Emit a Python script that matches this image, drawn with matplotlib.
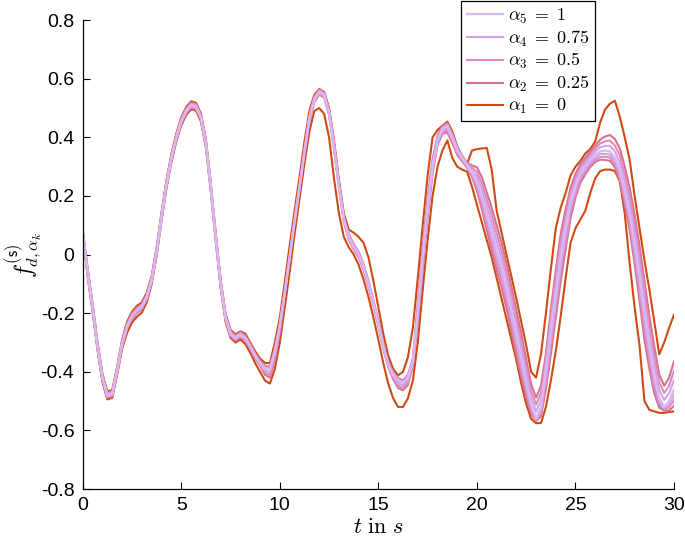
import matplotlib
matplotlib.use('Agg')
import matplotlib.pyplot as plt
import numpy as np

# ---------------- data ----------------
t = np.arange(0, 30.001, 0.25)

# alpha_5 = 1 (core curve)
f_a5 = [0.078, -0.06, -0.18, -0.31, -0.42, -0.48, -0.475, -0.395, -0.305, -0.245,
        -0.21, -0.19, -0.178, -0.145, -0.086, 0.01, 0.13, 0.24, 0.33, 0.40,
        0.455, 0.49, 0.51, 0.505, 0.468, 0.38, 0.23, 0.06, -0.10, -0.215,
        -0.27, -0.285, -0.273, -0.285, -0.314, -0.345, -0.37, -0.39, -0.39, -0.33,
        -0.245, -0.13, -0.01, 0.115, 0.23, 0.35, 0.465, 0.53, 0.555, 0.545,
        0.485, 0.37, 0.235, 0.12, 0.06, 0.027, 0.0, -0.042, -0.10, -0.165,
        -0.235, -0.312, -0.375, -0.41, -0.43, -0.438, -0.42, -0.365, -0.20, -0.01,
        0.16, 0.30, 0.39, 0.428, 0.437, 0.40, 0.357, 0.33, 0.305, 0.28,
        0.25, 0.20, 0.14, 0.08, 0.02, -0.04, -0.11, -0.19, -0.27, -0.35,
        -0.43, -0.51, -0.56, -0.52, -0.395, -0.26, -0.135, -0.01, 0.09, 0.18,
        0.235, 0.278, 0.302, 0.323, 0.34, 0.352, 0.355, 0.352, 0.33, 0.29,
        0.22, 0.14, 0.04, -0.07, -0.195, -0.31, -0.41, -0.49, -0.52, -0.50,
        -0.46]

# alpha_1 = 0 (outer bounds)
f_a1_up = [0.082, -0.047, -0.167, -0.297, -0.407, -0.467, -0.462, -0.382, -0.292, -0.230,
           -0.195, -0.175, -0.163, -0.130, -0.073, 0.023, 0.143, 0.253, 0.343, 0.413,
           0.468, 0.503, 0.523, 0.518, 0.481, 0.393, 0.243, 0.073, -0.087, -0.202,
           -0.257, -0.272, -0.262, -0.27, -0.30, -0.33, -0.355, -0.37, -0.37, -0.30,
           -0.215, -0.095, 0.03, 0.15, 0.265, 0.385, 0.49, 0.545, 0.565, 0.555,
           0.50, 0.39, 0.255, 0.14, 0.085, 0.075, 0.06, 0.04, -0.01, -0.09,
           -0.18, -0.27, -0.345, -0.39, -0.412, -0.40, -0.35, -0.25, -0.08, 0.10,
           0.27, 0.40, 0.425, 0.44, 0.454, 0.42, 0.37, 0.32, 0.31, 0.355,
           0.36, 0.362, 0.364, 0.29, 0.15, 0.075, 0.0, -0.075, -0.15, -0.23,
           -0.31, -0.40, -0.42, -0.34, -0.20, -0.05, 0.09, 0.16, 0.21, 0.27,
           0.30, 0.32, 0.345, 0.36, 0.386, 0.45, 0.495, 0.515, 0.525, 0.47,
           0.40, 0.323, 0.20, 0.09, -0.02, -0.12, -0.23, -0.34, -0.30, -0.25,
           -0.205]
f_a1_lo = [0.074, -0.074, -0.194, -0.324, -0.434, -0.494, -0.489, -0.409, -0.322, -0.267,
           -0.232, -0.212, -0.198, -0.163, -0.100, -0.004, 0.116, 0.226, 0.316, 0.386,
           0.441, 0.476, 0.496, 0.491, 0.454, 0.366, 0.216, 0.046, -0.114, -0.229,
           -0.284, -0.30, -0.29, -0.305, -0.335, -0.37, -0.40, -0.43, -0.44, -0.39,
           -0.30, -0.18, -0.06, 0.07, 0.19, 0.31, 0.42, 0.49, 0.50, 0.48,
           0.40, 0.26, 0.14, 0.06, 0.025, 0.0, -0.035, -0.085, -0.145, -0.215,
           -0.29, -0.37, -0.44, -0.49, -0.52, -0.52, -0.49, -0.43, -0.30, -0.12,
           0.05, 0.20, 0.30, 0.355, 0.39, 0.33, 0.30, 0.29, 0.283, 0.232,
           0.17, 0.11, 0.05, -0.01, -0.08, -0.15, -0.22, -0.29, -0.36, -0.44,
           -0.51, -0.56, -0.575, -0.575, -0.52, -0.43, -0.33, -0.21, -0.08, 0.04,
           0.09, 0.12, 0.15, 0.21, 0.26, 0.285, 0.29, 0.29, 0.285, 0.25,
           0.14, -0.03, -0.18, -0.31, -0.50, -0.53, -0.535, -0.54, -0.54, -0.537,
           -0.535]

a2_up_spread = [0.003, 0.009, 0.009, 0.009, 0.009, 0.009, 0.009, 0.009, 0.009, 0.009,
                0.009, 0.009, 0.009, 0.009, 0.009, 0.009, 0.009, 0.009, 0.009, 0.009,
                0.009, 0.009, 0.009, 0.009, 0.009, 0.009, 0.009, 0.009, 0.009, 0.009,
                0.009, 0.009, 0.009, 0.009, 0.009, 0.009, 0.009, 0.009, 0.009, 0.009,
                0.009, 0.009, 0.009, 0.009, 0.009, 0.009, 0.009, 0.009, 0.009, 0.009,
                0.009, 0.009, 0.009, 0.009, 0.009, 0.009, 0.009, 0.009, 0.009, 0.009,
                0.009, 0.009, 0.009, 0.009, 0.009, 0.009, 0.009, 0.009, 0.032, 0.036,
                0.032, 0.024, 0.016, 0.012, 0.012, 0.012, 0.012, 0.008, 0.008, 0.024,
                0.048, 0.064, 0.072, 0.080, 0.080, 0.080, 0.080, 0.080, 0.080, 0.080,
                0.072, 0.068, 0.072, 0.072, 0.056, 0.072, 0.080, 0.080, 0.064, 0.048,
                0.040, 0.032, 0.028, 0.028, 0.032, 0.040, 0.048, 0.056, 0.064, 0.072,
                0.080, 0.088, 0.096, 0.100, 0.104, 0.100, 0.096, 0.080, 0.072, 0.080,
                0.096]
a3_up_spread = [0.002, 0.006, 0.006, 0.006, 0.006, 0.006, 0.006, 0.006, 0.006, 0.006,
                0.006, 0.006, 0.006, 0.006, 0.006, 0.006, 0.006, 0.006, 0.006, 0.006,
                0.006, 0.006, 0.006, 0.006, 0.006, 0.006, 0.006, 0.006, 0.006, 0.006,
                0.006, 0.006, 0.006, 0.006, 0.006, 0.006, 0.006, 0.006, 0.006, 0.006,
                0.006, 0.006, 0.006, 0.006, 0.006, 0.006, 0.006, 0.006, 0.006, 0.006,
                0.006, 0.006, 0.006, 0.006, 0.006, 0.006, 0.006, 0.006, 0.006, 0.006,
                0.006, 0.006, 0.006, 0.006, 0.006, 0.006, 0.006, 0.006, 0.021, 0.024,
                0.021, 0.016, 0.011, 0.008, 0.008, 0.008, 0.008, 0.005, 0.005, 0.016,
                0.032, 0.042, 0.048, 0.053, 0.053, 0.053, 0.053, 0.053, 0.053, 0.053,
                0.048, 0.045, 0.048, 0.048, 0.037, 0.048, 0.053, 0.053, 0.042, 0.032,
                0.027, 0.021, 0.019, 0.019, 0.021, 0.027, 0.032, 0.037, 0.042, 0.048,
                0.053, 0.058, 0.064, 0.066, 0.069, 0.066, 0.064, 0.053, 0.048, 0.053,
                0.064]
a4_up_spread = [0.001, 0.003, 0.003, 0.003, 0.003, 0.003, 0.003, 0.003, 0.003, 0.003,
                0.003, 0.003, 0.003, 0.003, 0.003, 0.003, 0.003, 0.003, 0.003, 0.003,
                0.003, 0.003, 0.003, 0.003, 0.003, 0.003, 0.003, 0.003, 0.003, 0.003,
                0.003, 0.003, 0.003, 0.003, 0.003, 0.003, 0.003, 0.003, 0.003, 0.003,
                0.003, 0.003, 0.003, 0.003, 0.003, 0.003, 0.003, 0.003, 0.003, 0.003,
                0.003, 0.003, 0.003, 0.003, 0.003, 0.003, 0.003, 0.003, 0.003, 0.003,
                0.003, 0.003, 0.003, 0.003, 0.003, 0.003, 0.003, 0.003, 0.011, 0.012,
                0.011, 0.008, 0.005, 0.004, 0.004, 0.004, 0.004, 0.003, 0.003, 0.008,
                0.016, 0.022, 0.024, 0.027, 0.027, 0.027, 0.027, 0.027, 0.027, 0.027,
                0.024, 0.023, 0.024, 0.024, 0.019, 0.024, 0.027, 0.027, 0.022, 0.016,
                0.014, 0.011, 0.009, 0.009, 0.011, 0.014, 0.016, 0.019, 0.022, 0.024,
                0.027, 0.030, 0.032, 0.034, 0.035, 0.034, 0.032, 0.027, 0.024, 0.027,
                0.032]
a2_lo_spread = [0.003, 0.009, 0.009, 0.009, 0.009, 0.009, 0.009, 0.009, 0.009, 0.009,
                0.009, 0.009, 0.009, 0.009, 0.009, 0.009, 0.009, 0.009, 0.009, 0.009,
                0.009, 0.009, 0.009, 0.009, 0.009, 0.009, 0.009, 0.009, 0.009, 0.009,
                0.009, 0.009, 0.009, 0.009, 0.009, 0.009, 0.009, 0.020, 0.030, 0.030,
                0.020, 0.009, 0.009, 0.009, 0.009, 0.009, 0.009, 0.009, 0.009, 0.009,
                0.009, 0.009, 0.009, 0.009, 0.009, 0.009, 0.009, 0.009, 0.009, 0.009,
                0.009, 0.009, 0.009, 0.015, 0.025, 0.025, 0.025, 0.015, 0.032, 0.036,
                0.032, 0.024, 0.016, 0.016, 0.020, 0.020, 0.016, 0.012, 0.008, 0.016,
                0.032, 0.044, 0.056, 0.064, 0.072, 0.072, 0.072, 0.072, 0.072, 0.068,
                0.056, 0.032, 0.008, 0.032, 0.064, 0.080, 0.080, 0.080, 0.072, 0.056,
                0.040, 0.032, 0.028, 0.024, 0.024, 0.028, 0.032, 0.032, 0.032, 0.040,
                0.048, 0.056, 0.072, 0.088, 0.096, 0.080, 0.064, 0.032, 0.012, 0.032,
                0.056]
a3_lo_spread = [0.002, 0.006, 0.006, 0.006, 0.006, 0.006, 0.006, 0.006, 0.006, 0.006,
                0.006, 0.006, 0.006, 0.006, 0.006, 0.006, 0.006, 0.006, 0.006, 0.006,
                0.006, 0.006, 0.006, 0.006, 0.006, 0.006, 0.006, 0.006, 0.006, 0.006,
                0.006, 0.006, 0.006, 0.006, 0.006, 0.006, 0.006, 0.013, 0.020, 0.020,
                0.013, 0.006, 0.006, 0.006, 0.006, 0.006, 0.006, 0.006, 0.006, 0.006,
                0.006, 0.006, 0.006, 0.006, 0.006, 0.006, 0.006, 0.006, 0.006, 0.006,
                0.006, 0.006, 0.006, 0.010, 0.017, 0.017, 0.017, 0.010, 0.021, 0.024,
                0.021, 0.016, 0.011, 0.011, 0.013, 0.013, 0.011, 0.008, 0.005, 0.011,
                0.021, 0.029, 0.037, 0.042, 0.048, 0.048, 0.048, 0.048, 0.048, 0.045,
                0.037, 0.021, 0.005, 0.021, 0.042, 0.053, 0.053, 0.053, 0.048, 0.037,
                0.027, 0.021, 0.019, 0.016, 0.016, 0.019, 0.021, 0.021, 0.021, 0.027,
                0.032, 0.037, 0.048, 0.058, 0.064, 0.053, 0.042, 0.021, 0.008, 0.021,
                0.037]
a4_lo_spread = [0.001, 0.003, 0.003, 0.003, 0.003, 0.003, 0.003, 0.003, 0.003, 0.003,
                0.003, 0.003, 0.003, 0.003, 0.003, 0.003, 0.003, 0.003, 0.003, 0.003,
                0.003, 0.003, 0.003, 0.003, 0.003, 0.003, 0.003, 0.003, 0.003, 0.003,
                0.003, 0.003, 0.003, 0.003, 0.003, 0.003, 0.003, 0.007, 0.010, 0.010,
                0.007, 0.003, 0.003, 0.003, 0.003, 0.003, 0.003, 0.003, 0.003, 0.003,
                0.003, 0.003, 0.003, 0.003, 0.003, 0.003, 0.003, 0.003, 0.003, 0.003,
                0.003, 0.003, 0.003, 0.005, 0.008, 0.008, 0.008, 0.005, 0.011, 0.012,
                0.011, 0.008, 0.005, 0.005, 0.007, 0.007, 0.005, 0.004, 0.003, 0.005,
                0.011, 0.015, 0.019, 0.022, 0.024, 0.024, 0.024, 0.024, 0.024, 0.023,
                0.019, 0.011, 0.003, 0.011, 0.022, 0.027, 0.027, 0.027, 0.024, 0.019,
                0.014, 0.011, 0.009, 0.008, 0.008, 0.009, 0.011, 0.011, 0.011, 0.014,
                0.016, 0.019, 0.024, 0.030, 0.032, 0.027, 0.022, 0.011, 0.004, 0.011,
                0.019]

level_labels = [r'$\alpha_5\;=\;1$', r'$\alpha_4\;=\;0.75$', r'$\alpha_3\;=\;0.5$',
                r'$\alpha_2\;=\;0.25$', r'$\alpha_1\;=\;0$']
level_colors = ['#d9b8f2', '#d4a2e2', '#dc8ac0', '#d8708c', '#cf4a14']

xticks = [0, 5, 10, 15, 20, 25, 30]
yticks = [-0.8, -0.6, -0.4, -0.2, 0, 0.2, 0.4, 0.6, 0.8]
ytick_labels = ['-0.8', '-0.6', '-0.4', '-0.2', '0', '0.2', '0.4', '0.6', '0.8']

for arr in [f_a5, f_a1_up, f_a1_lo, a2_up_spread, a3_up_spread, a4_up_spread,
            a2_lo_spread, a3_lo_spread, a4_lo_spread]:
    assert len(arr) == len(t), len(arr)

core = np.asarray(f_a5)
f_a2_up = core + np.asarray(a2_up_spread)
f_a3_up = core + np.asarray(a3_up_spread)
f_a4_up = core + np.asarray(a4_up_spread)
f_a2_lo = core - np.asarray(a2_lo_spread)
f_a3_lo = core - np.asarray(a3_lo_spread)
f_a4_lo = core - np.asarray(a4_lo_spread)

# ---------------- figure ----------------
plt.rcParams['mathtext.fontset'] = 'cm'
plt.rcParams['font.family'] = ['Liberation Sans', 'DejaVu Sans']

fig = plt.figure(figsize=(6.85, 5.44), dpi=100)
ax = fig.add_axes([0.1207, 0.101, 0.8633, 0.862])

curves = [
    (f_a1_up, f_a1_lo, 4),
    (f_a2_up, f_a2_lo, 3),
    (f_a3_up, f_a3_lo, 2),
    (f_a4_up, f_a4_lo, 1),
]
handles = {}
for up, lo, ci in curves:
    h, = ax.plot(t, up, color=level_colors[ci], lw=1.5)
    ax.plot(t, lo, color=level_colors[ci], lw=1.5)
    handles[ci] = h
h, = ax.plot(t, f_a5, color=level_colors[0], lw=1.7)
handles[0] = h

ax.set_xlim(0, 30)
ax.set_ylim(-0.8, 0.8)
ax.set_xticks(xticks)
ax.set_xticklabels([str(v) for v in xticks])
ax.set_yticks(yticks)
ax.set_yticklabels(ytick_labels)
ax.tick_params(direction='in', length=5, width=0.8, labelsize=14, pad=6,
               top=False, right=False)
for s in ['top', 'right']:
    ax.spines[s].set_visible(False)
for s in ['left', 'bottom']:
    ax.spines[s].set_linewidth(0.9)

ax.set_xlabel(r'$t\ \mathrm{in}\ s$', fontsize=16, labelpad=2)
ax.set_ylabel(r'$f^{(\mathsf{s})}_{d,\alpha_k}$', fontsize=17)
ax.yaxis.set_label_coords(-0.066, 0.5)

leg = ax.legend([handles[i] for i in range(5)], level_labels,
                loc='upper left', bbox_to_anchor=(0.64, 1.04), fontsize=13,
                frameon=True, fancybox=False, framealpha=1, edgecolor='black',
                handlelength=2.0, handletextpad=0.3, labelspacing=0.15,
                borderpad=0.3, borderaxespad=0)
leg.get_frame().set_linewidth(0.9)

fig.savefig('out.png', dpi=100)
